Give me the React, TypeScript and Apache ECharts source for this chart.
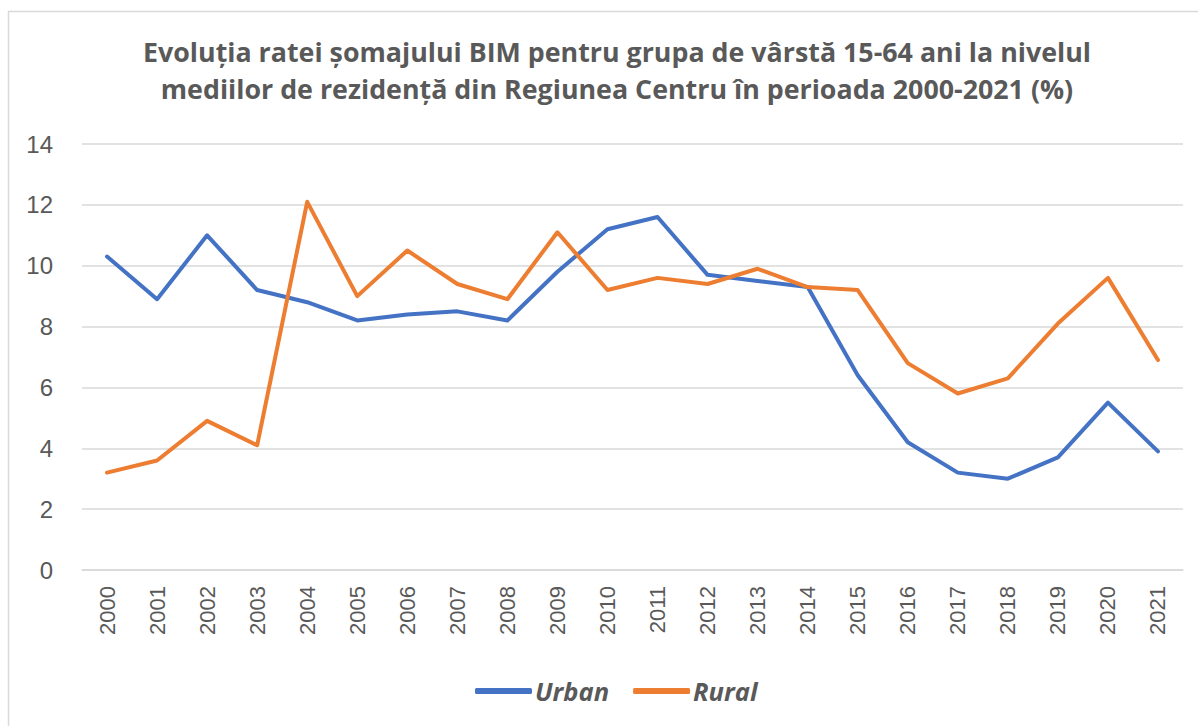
import React, { useEffect, useRef } from "react";
import * as echarts from "echarts";

const years = ["2000","2001","2002","2003","2004","2005","2006","2007","2008","2009","2010","2011","2012","2013","2014","2015","2016","2017","2018","2019","2020","2021"];
const urban = [10.3, 8.9, 11.0, 9.2, 8.8, 8.2, 8.4, 8.5, 8.2, 9.8, 11.2, 11.6, 9.7, 9.5, 9.3, 6.4, 4.2, 3.2, 3.0, 3.7, 5.5, 3.9];
const rural = [3.2, 3.6, 4.9, 4.1, 12.1, 9.0, 10.5, 9.4, 8.9, 11.1, 9.2, 9.6, 9.4, 9.9, 9.3, 9.2, 6.8, 5.8, 6.3, 8.1, 9.6, 6.9];
const titleText = "Evoluția ratei șomajului BIM pentru grupa de vârstă 15-64 ani la nivelul\nmediilor de rezidență din Regiunea Centru în perioada 2000-2021 (%)";

export default function App() {
  const ref = useRef<HTMLDivElement>(null);
  useEffect(() => {
    document.body.style.margin = "0";
    const chart = echarts.init(ref.current!, null, { renderer: "svg" });
    chart.setOption({
      animation: false,
      backgroundColor: "#ffffff",
      graphic: [
        {
          type: "rect",
          shape: { x: 8.5, y: 11.5, width: 1200, height: 730 },
          style: { fill: "none", stroke: "#d9d9d9", lineWidth: 1.5 },
          silent: true,
        },
      ],
      title: {
        text: titleText,
        left: 612,
        textAlign: "center",
        top: 28,
        padding: 5,
        textStyle: {
          fontFamily: "Open Sans",
          fontWeight: "bold",
          fontSize: 26.8,
          color: "#595959",
          lineHeight: 37,
        },
      },
      legend: {
        bottom: 17,
        left: 470,
        itemWidth: 57,
        itemHeight: 6,
        itemGap: 24,
        icon: "roundRect",
        textStyle: {
          fontFamily: "Open Sans",
          fontWeight: "bold",
          fontStyle: "italic",
          fontSize: 25.5,
          color: "#595959",
          padding: [0, 0, 0, -2],
        },
        data: ["Urban", "Rural"],
      },
      grid: { left: 82, right: 15, top: 144, bottom: 156 },
      xAxis: {
        type: "category",
        data: years,
        boundaryGap: true,
        axisLine: { show: true, lineStyle: { color: "#d9d9d9", width: 1.5 } },
        axisTick: { show: false },
        axisLabel: {
          rotate: 90,
          fontFamily: "Liberation Sans",
          fontSize: 22,
          color: "#595959",
          margin: 16,
          interval: 0,
        },
      },
      yAxis: {
        type: "value",
        min: 0,
        max: 14,
        interval: 2,
        axisLine: { show: false },
        axisTick: { show: false },
        axisLabel: {
          fontFamily: "Liberation Sans",
          fontSize: 24,
          color: "#595959",
          margin: 29,
        },
        splitLine: { lineStyle: { color: "#d9d9d9", width: 1.5 } },
      },
      series: [
        {
          name: "Urban",
          type: "line",
          data: urban,
          symbol: "none",
          lineStyle: { color: "#4472C4", width: 4, cap: "round", join: "round" },
          itemStyle: { color: "#4472C4" },
        },
        {
          name: "Rural",
          type: "line",
          data: rural,
          symbol: "none",
          lineStyle: { color: "#ED7D31", width: 4, cap: "round", join: "round" },
          itemStyle: { color: "#ED7D31" },
        },
      ],
    });
    return () => chart.dispose();
  }, []);
  return <div ref={ref} style={{ width: 1198, height: 726 }} />;
}
